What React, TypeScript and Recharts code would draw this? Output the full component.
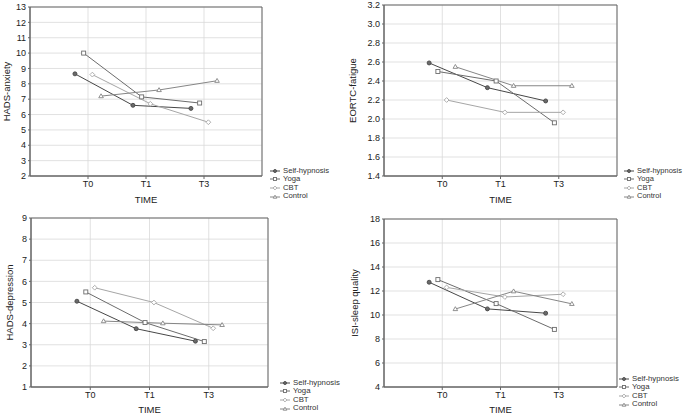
import React from 'react';
import { LineChart, Line, XAxis, YAxis, CartesianGrid, ReferenceArea, Legend } from 'recharts';

const timeLabels = ['T0', 'T1', 'T3'];
const seriesNames = ['Self-hypnosis', 'Yoga', 'CBT', 'Control'];

const anxietySelfHypnosis = [8.65, 6.6, 6.4];
const anxietyYoga = [10.0, 7.15, 6.75];
const anxietyCBT = [8.6, 6.7, 5.5];
const anxietyControl = [7.2, 7.6, 8.2];

const fatigueSelfHypnosis = [2.59, 2.33, 2.19];
const fatigueYoga = [2.5, 2.4, 1.96];
const fatigueCBT = [2.2, 2.07, 2.07];
const fatigueControl = [2.55, 2.35, 2.35];

const depressionSelfHypnosis = [5.06, 3.76, 3.17];
const depressionYoga = [5.5, 4.05, 3.15];
const depressionCBT = [5.7, 5.0, 3.78];
const depressionControl = [4.12, 4.02, 3.94];

const sleepSelfHypnosis = [12.73, 10.51, 10.15];
const sleepYoga = [12.95, 10.95, 8.8];
const sleepCBT = [12.3, 11.5, 11.73];
const sleepControl = [10.5, 11.98, 10.93];

const anxietyTicks = [2, 3, 4, 5, 6, 7, 8, 9, 10, 11, 12, 13];
const fatigueTicks = [1.4, 1.6, 1.8, 2.0, 2.2, 2.4, 2.6, 2.8, 3.0, 3.2];
const depressionTicks = [1, 2, 3, 4, 5, 6, 7, 8, 9];
const sleepTicks = [4, 6, 8, 10, 12, 14, 16, 18];

const FONT = '"Liberation Sans", Arial, sans-serif';
const seriesColors = ['#474747', '#6c6c6c', '#a6a6a6', '#868686'];
const seriesShapes = ['circle', 'square', 'diamond', 'triangle'];
const seriesOffsets = [-0.225, -0.075, 0.075, 0.225];

function Marker({ shape, cx, cy, color, s = 2 }: any) {
  if (shape === 'circle') {
    return <circle cx={cx} cy={cy} r={s} fill="#6a6a6a" stroke={color} strokeWidth={0.9} />;
  }
  if (shape === 'square') {
    return <rect x={cx - s} y={cy - s} width={2 * s} height={2 * s} fill="#fff" stroke={color} strokeWidth={0.9} />;
  }
  if (shape === 'diamond') {
    return (
      <polygon
        points={`${cx},${cy - s - 0.4} ${cx + s + 0.4},${cy} ${cx},${cy + s + 0.4} ${cx - s - 0.4},${cy}`}
        fill="#fff"
        stroke={color}
        strokeWidth={0.9}
      />
    );
  }
  return (
    <polygon
      points={`${cx},${cy - s - 0.3} ${cx + s + 0.3},${cy + s * 0.8} ${cx - s - 0.3},${cy + s * 0.8}`}
      fill="#fff"
      stroke={color}
      strokeWidth={0.9}
    />
  );
}

const makeDot = (si: number) => (props: any) => {
  const { cx, cy, index } = props;
  if (cx == null || cy == null) return <g key={`d${si}-${index}`} />;
  return (
    <g key={`d${si}-${index}`}>
      <Marker shape={seriesShapes[si]} cx={cx} cy={cy} color={seriesColors[si]} />
    </g>
  );
};

const renderLegend = (fontSize: number) => () => (
  <div style={{ fontFamily: FONT, fontSize, color: '#333', lineHeight: '8.6px' }}>
    {seriesNames.map((n, i) => (
      <div key={n} style={{ display: 'flex', alignItems: 'center', height: 8.6, whiteSpace: 'nowrap' }}>
        <svg width={11} height={8} style={{ display: 'block' }}>
          <line x1={0} x2={10} y1={4} y2={4} stroke={seriesColors[i]} strokeWidth={1} />
          <Marker shape={seriesShapes[i]} cx={5} cy={4} color={seriesColors[i]} s={1.5} />
        </svg>
        <span style={{ marginLeft: 2 }}>{n}</span>
      </div>
    ))}
  </div>
);

function Panel({ left, top, width, height, margin, yAxisWidth, xAxisHeight, yDomain, yTicks, yFormat, yLabel, yLabelDx, series, legendLeft, legendTop, legendFont, timeOffset }: any) {
  const datasets = series.map((vals: number[], si: number) =>
    vals.map((v, i) => ({ x: i + seriesOffsets[si], y: v }))
  );
  return (
    <div style={{ position: 'absolute', left, top, width, height }}>
      <LineChart width={width} height={height} margin={margin}>
        <CartesianGrid stroke="#d9d9d9" strokeWidth={0.8} />
        <XAxis
          type="number"
          dataKey="x"
          domain={[-1, 3]}
          ticks={[0, 1, 2]}
          tickFormatter={(v: number) => timeLabels[v]}
          height={xAxisHeight}
          axisLine={{ stroke: '#666' }}
          tickLine={{ stroke: '#666' }}
          tickSize={3}
          tickMargin={2}
          tick={{ fontSize: 9, fill: '#222', fontFamily: FONT }}
          label={{ value: 'TIME', position: 'insideBottom', offset: timeOffset, fontSize: 9.5, fill: '#222', fontFamily: FONT }}
        />
        <YAxis
          type="number"
          domain={yDomain}
          ticks={yTicks}
          tickFormatter={yFormat}
          width={yAxisWidth}
          axisLine={{ stroke: '#666' }}
          tickLine={{ stroke: '#666' }}
          tickSize={2}
          tickMargin={2}
          interval={0}
          tick={{ fontSize: 9, fill: '#222', fontFamily: FONT }}
          label={{ value: yLabel, angle: -90, position: 'center', dx: yLabelDx, fontSize: 9.5, fill: '#222', fontFamily: FONT }}
        />
        <ReferenceArea x1={-1} x2={3} y1={yDomain[0]} y2={yDomain[1]} fill="none" stroke="#666" strokeWidth={1} />
        {datasets.map((d: any, si: number) => (
          <Line
            key={seriesNames[si]}
            data={d}
            dataKey="y"
            name={seriesNames[si]}
            stroke={seriesColors[si]}
            strokeWidth={1}
            dot={makeDot(si)}
            activeDot={false}
            isAnimationActive={false}
          />
        ))}
        <Legend
          layout="vertical"
          align="center"
          verticalAlign="middle"
          content={renderLegend(legendFont)}
          wrapperStyle={{ left: legendLeft, top: legendTop, width: 'auto', height: 'auto' }}
        />
      </LineChart>
    </div>
  );
}

export default function App() {
  return (
    <div style={{ position: 'absolute', left: 0, top: 0, width: 685, height: 416, background: '#fff', overflow: 'hidden' }}>
      <Panel
        left={0} top={0} width={342} height={208}
        margin={{ top: 7, right: 80, bottom: 0, left: 0 }}
        yAxisWidth={30} xAxisHeight={32} timeOffset={5}
        yDomain={[2, 13]} yTicks={anxietyTicks} yFormat={(v: number) => String(v)}
        yLabel="HADS-anxiety" yLabelDx={-8}
        series={[anxietySelfHypnosis, anxietyYoga, anxietyCBT, anxietyControl]}
        legendLeft={270} legendTop={166.5} legendFont={7.7}
      />
      <Panel
        left={342} top={0} width={343} height={208}
        margin={{ top: 5, right: 68, bottom: 0, left: 0 }}
        yAxisWidth={42} xAxisHeight={32} timeOffset={5}
        yDomain={[1.4, 3.2]} yTicks={fatigueTicks} yFormat={(v: number) => v.toFixed(1)}
        yLabel="EORTC-fatigue" yLabelDx={-10}
        series={[fatigueSelfHypnosis, fatigueYoga, fatigueCBT, fatigueControl]}
        legendLeft={282} legendTop={166.5} legendFont={7.5}
      />
      <Panel
        left={0} top={208} width={342} height={208}
        margin={{ top: 10, right: 74, bottom: 0, left: 0 }}
        yAxisWidth={31} xAxisHeight={29} timeOffset={3}
        yDomain={[1, 9]} yTicks={depressionTicks} yFormat={(v: number) => String(v)}
        yLabel="HADS-depression" yLabelDx={-5.5}
        series={[depressionSelfHypnosis, depressionYoga, depressionCBT, depressionControl]}
        legendLeft={280} legendTop={170.5} legendFont={7.8}
      />
      <Panel
        left={342} top={208} width={343} height={208}
        margin={{ top: 11, right: 68, bottom: 0, left: 0 }}
        yAxisWidth={42} xAxisHeight={29} timeOffset={3}
        yDomain={[4, 18]} yTicks={sleepTicks} yFormat={(v: number) => String(v)}
        yLabel="ISI-sleep quality" yLabelDx={-8}
        series={[sleepSelfHypnosis, sleepYoga, sleepCBT, sleepControl]}
        legendLeft={277} legendTop={166.5} legendFont={7.8}
      />
    </div>
  );
}
